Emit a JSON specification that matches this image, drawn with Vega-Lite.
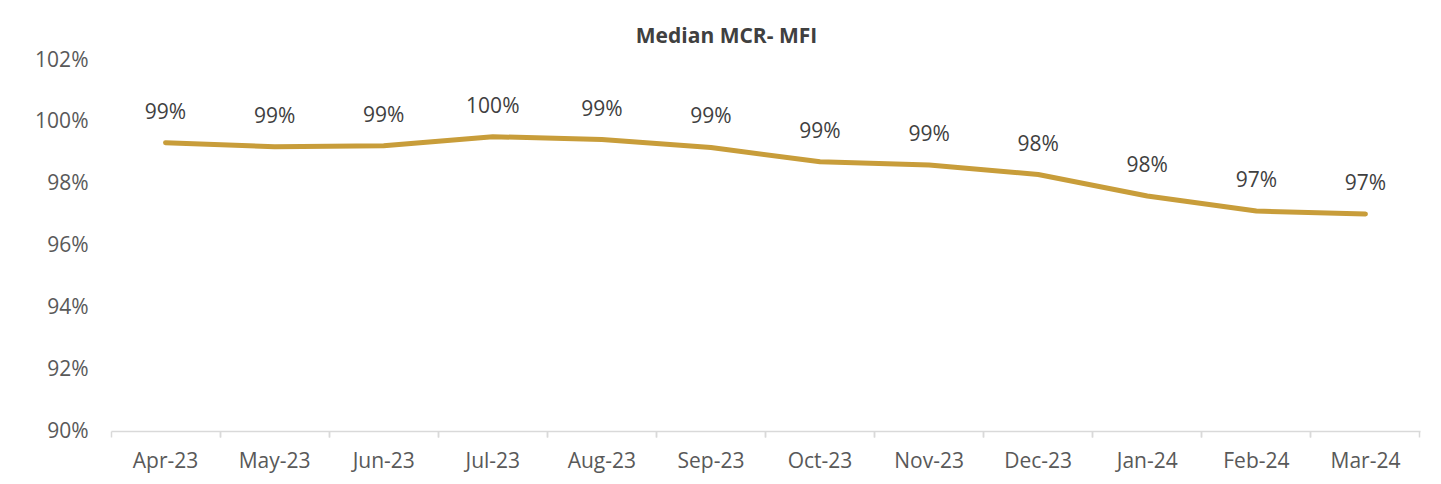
{
  "$schema": "https://vega.github.io/schema/vega-lite/v6.json",
  "autosize": {"type": "none"},
  "padding": {"left": 111, "top": 60, "right": 21, "bottom": 53},
  "width": 1309,
  "height": 371,
  "background": "white",
  "config": {
    "view": {"stroke": null},
    "font": "Open Sans"
  },
  "title": {
    "text": "Median MCR- MFI",
    "font": "Open Sans",
    "fontSize": 21,
    "fontWeight": "bold",
    "color": "#404040",
    "anchor": "middle",
    "dx": -39,
    "baseline": "bottom",
    "offset": -19
  },
  "data": {
    "values": [
      {"month": "Apr-23", "mcr": 0.99325},
      {"month": "May-23", "mcr": 0.99195},
      {"month": "Jun-23", "mcr": 0.99228},
      {"month": "Jul-23", "mcr": 0.99519},
      {"month": "Aug-23", "mcr": 0.99428},
      {"month": "Sep-23", "mcr": 0.9917},
      {"month": "Oct-23", "mcr": 0.9871},
      {"month": "Nov-23", "mcr": 0.98603},
      {"month": "Dec-23", "mcr": 0.98296},
      {"month": "Jan-24", "mcr": 0.976},
      {"month": "Feb-24", "mcr": 0.97115},
      {"month": "Mar-24", "mcr": 0.97018}
    ]
  },
  "resolve": {"axis": {"x": "independent"}},
  "layer": [
    {
      "mark": {"type": "line", "color": "#C89D3A", "strokeWidth": 5, "strokeCap": "round", "strokeJoin": "round"},
      "encoding": {
        "x": {
          "field": "month", "type": "ordinal", "sort": null,
          "scale": {"type": "band", "paddingInner": 0, "paddingOuter": 0},
          "axis": {
            "orient": "bottom", "title": null, "labelAngle": 0,
            "bandPosition": 0,
            "domain": true, "domainColor": "#d9d9d9", "domainWidth": 1.5,
            "ticks": true, "tickColor": "#d9d9d9", "tickWidth": 1.5, "tickSize": 6,
            "labelFont": "Open Sans", "labelFontSize": 21, "labelColor": "#595959",
            "labelBaseline": "middle", "labelPadding": 24, "grid": false
          }
        },
        "y": {
          "field": "mcr", "type": "quantitative",
          "scale": {"domain": [0.9, 1.02], "nice": false, "zero": false},
          "axis": {
            "title": null, "format": ".0%", "values": [0.9, 0.92, 0.94, 0.96, 0.98, 1.0, 1.02],
            "domain": false, "ticks": false, "grid": false,
            "labelFont": "Open Sans", "labelFontSize": 21, "labelColor": "#595959",
            "labelPadding": 23
          }
        }
      }
    },
    {
      "mark": {"type": "text", "font": "Open Sans", "fontSize": 21, "color": "#404040", "baseline": "middle", "dy": -30},
      "encoding": {
        "x": {
          "field": "month", "type": "ordinal", "sort": null,
          "axis": {
            "orient": "bottom", "title": null, "labels": false,
            "bandPosition": 1, "domain": false,
            "ticks": true, "tickColor": "#d9d9d9", "tickWidth": 1.5, "tickSize": 6, "grid": false
          }
        },
        "y": {"field": "mcr", "type": "quantitative"},
        "text": {"field": "mcr", "type": "quantitative", "format": ".0%"}
      }
    }
  ]
}
